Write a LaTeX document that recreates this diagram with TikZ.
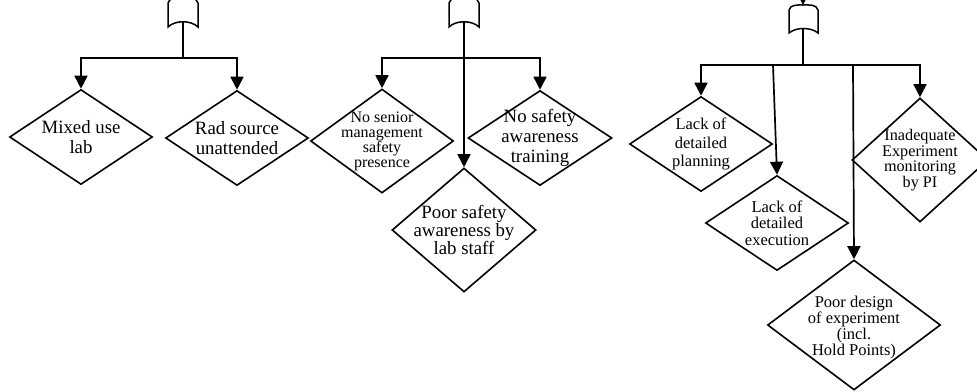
\documentclass[tikz,border=0pt]{standalone}
\usepackage{fontspec}
\setmainfont{Liberation Serif}
\usetikzlibrary{shapes.geometric,arrows.meta}
\begin{document}
\begin{tikzpicture}[x=1pt,y=-1pt,
  dia/.style={diamond,draw,line width=1.6pt,inner sep=0pt,aspect=1},
  conn/.style={line width=1.7pt,-{Triangle[width=13pt,length=13pt]}},
  bar/.style={line width=1.7pt},
  gate/.style={line width=1.5pt},
  big/.style={font=\fontsize{18.8}{20}\selectfont,align=center,inner sep=0pt},
  small/.style={font=\fontsize{16.5}{16.5}\selectfont,align=center,inner sep=0pt}]
\useasboundingbox (0,0) rectangle (977,391);
\clip (0,0) rectangle (977,391);

% gates
\draw[gate] (168,27) -- (168,3) to[out=75,in=180] (183,-3) to[out=0,in=105] (198,3) -- (198,27)
  .. controls (191,20) and (175,20) .. cycle;
\draw[gate] (449,27) -- (449,3) to[out=75,in=180] (464,-3) to[out=0,in=105] (479,3) -- (479,27)
  .. controls (472,20) and (456,20) .. cycle;
\draw[gate] (789,33) -- (789,10) to[out=75,in=180] (803,5) to[out=0,in=105] (818,10) -- (818,33)
  .. controls (811,27) and (796,27) .. cycle;

\coordinate (g1) at (183,22);
\coordinate (j1) at (183,58);
\coordinate (g2) at (464,22);
\coordinate (j2) at (464,58);
\coordinate (g3) at (803,29);
\coordinate (j3) at (803,65);
\coordinate (t3) at (803,5);
\coordinate (in3) at (803,-12);
\coordinate (b7) at (773,65);
\coordinate (b8) at (853,65);

% diamonds
\node[dia,minimum width=143,minimum height=95,label={[big]center:{Mixed use\\lab}}] (d1) at (81,137) {};
\node[dia,minimum width=143,minimum height=95,label={[big]center:{Rad source\\unattended}}] (d2) at (237,138) {};
\node[dia,minimum width=143,minimum height=104,label={[small,font=\fontsize{16}{15}\selectfont]center:{No senior\\management\\safety\\presence}}] (d3) at (382,141) {};
\node[dia,minimum width=144,minimum height=95,label={[big]center:{No safety\\awareness\\training}}] (d4) at (540,138) {};
\node[dia,minimum width=144,minimum height=124,label={[big,font=\fontsize{18.8}{18.3}\selectfont]center:{Poor safety\\awareness by\\lab staff}}] (d5) at (464,230) {};
\node[dia,minimum width=143,minimum height=95,label={[small,font=\fontsize{16.5}{18.3}\selectfont]center:{Lack of\\detailed\\planning}}] (d6) at (701,144) {};
\node[dia,minimum width=143,minimum height=95,label={[small]center:{Lack of\\detailed\\execution}}] (d7) at (777,223) {};
\node[dia,minimum width=173,minimum height=130] (d8) at (854,325) {};
\node[small,font=\fontsize{16.5}{16}\selectfont] (t8) at (854,328) {Poor design\\of experiment\\(incl.\\Hold Points)};
\node[dia,minimum width=136,minimum height=124,label={[small,font=\fontsize{16.2}{15.5}\selectfont]center:{Inadequate\\Experiment\\monitoring\\by PI}}] (d9) at (920,160) {};

% connectors
\draw[bar] (g1) -- (j1);
\draw[conn] (j1) -| (d1.north);
\draw[conn] (j1) -| (d2.north);

\draw[conn] (g2) -- (d5.north);
\draw[conn] (j2) -| (d3.north);
\draw[conn] (j2) -| (d4.north);

\draw[conn] (in3) -- (t3);
\draw[bar] (g3) -- (j3);
\draw[conn] (j3) -| (d6.north);
\draw[conn] (j3) -| (d9.north);
\draw[conn] (b7) -- (d7.north);
\draw[conn] (b8) -- (d8.north);
\end{tikzpicture}
\end{document}
